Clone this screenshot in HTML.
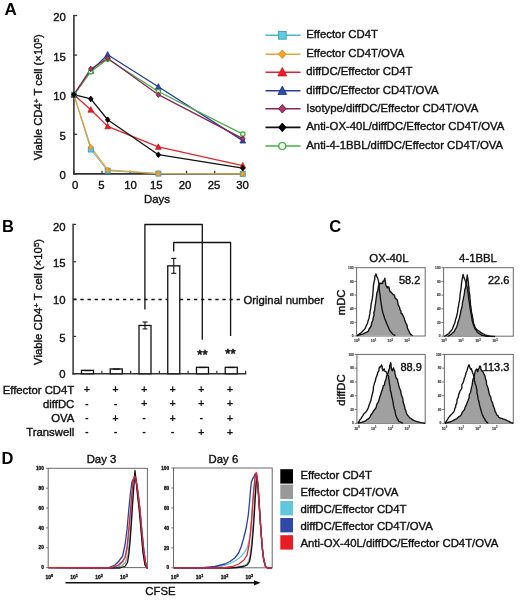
<!DOCTYPE html>
<html><head><meta charset="utf-8"><style>
html,body{margin:0;padding:0;background:#fff;}
svg{display:block;filter:blur(0.35px);font-family:"Liberation Sans", sans-serif;}
</style></head><body>
<svg width="520" height="601" viewBox="0 0 520 601">
<rect width="520" height="601" fill="#fff"/>
<text x="4.40" y="14.90" font-size="17" text-anchor="start" font-weight="bold" fill="#000" >A</text>
<line x1="73.90" y1="14.90" x2="73.90" y2="174.60" stroke="#333" stroke-width="1.6" />
<line x1="73.10" y1="173.90" x2="244.30" y2="173.90" stroke="#333" stroke-width="1.6" />
<line x1="73.90" y1="173.90" x2="77.10" y2="173.90" stroke="#333" stroke-width="1.3" />
<text x="65.80" y="178.70" font-size="11.35" text-anchor="end" font-weight="normal" fill="#111" stroke="#111" stroke-width="0.38" >0</text>
<line x1="73.90" y1="134.30" x2="77.10" y2="134.30" stroke="#333" stroke-width="1.3" />
<text x="65.80" y="139.60" font-size="11.35" text-anchor="end" font-weight="normal" fill="#111" stroke="#111" stroke-width="0.38" >5</text>
<line x1="73.90" y1="94.70" x2="77.10" y2="94.70" stroke="#333" stroke-width="1.3" />
<text x="65.80" y="99.80" font-size="11.35" text-anchor="end" font-weight="normal" fill="#111" stroke="#111" stroke-width="0.38" >10</text>
<line x1="73.90" y1="55.10" x2="77.10" y2="55.10" stroke="#333" stroke-width="1.3" />
<text x="65.80" y="60.70" font-size="11.35" text-anchor="end" font-weight="normal" fill="#111" stroke="#111" stroke-width="0.38" >15</text>
<line x1="73.90" y1="15.50" x2="77.10" y2="15.50" stroke="#333" stroke-width="1.3" />
<text x="65.80" y="21.35" font-size="11.35" text-anchor="end" font-weight="normal" fill="#111" stroke="#111" stroke-width="0.38" >20</text>
<line x1="73.90" y1="173.90" x2="73.90" y2="170.70" stroke="#333" stroke-width="1.3" />
<text x="75.20" y="188.90" font-size="11.35" text-anchor="middle" font-weight="normal" fill="#111" stroke="#111" stroke-width="0.38" >0</text>
<line x1="102.05" y1="173.90" x2="102.05" y2="170.70" stroke="#333" stroke-width="1.3" />
<text x="101.30" y="188.90" font-size="11.35" text-anchor="middle" font-weight="normal" fill="#111" stroke="#111" stroke-width="0.38" >5</text>
<line x1="130.20" y1="173.90" x2="130.20" y2="170.70" stroke="#333" stroke-width="1.3" />
<text x="130.60" y="188.90" font-size="11.35" text-anchor="middle" font-weight="normal" fill="#111" stroke="#111" stroke-width="0.38" >10</text>
<line x1="158.35" y1="173.90" x2="158.35" y2="170.70" stroke="#333" stroke-width="1.3" />
<text x="156.30" y="188.90" font-size="11.35" text-anchor="middle" font-weight="normal" fill="#111" stroke="#111" stroke-width="0.38" >15</text>
<line x1="186.50" y1="173.90" x2="186.50" y2="170.70" stroke="#333" stroke-width="1.3" />
<text x="185.00" y="188.90" font-size="11.35" text-anchor="middle" font-weight="normal" fill="#111" stroke="#111" stroke-width="0.38" >20</text>
<line x1="214.65" y1="173.90" x2="214.65" y2="170.70" stroke="#333" stroke-width="1.3" />
<text x="214.00" y="188.90" font-size="11.35" text-anchor="middle" font-weight="normal" fill="#111" stroke="#111" stroke-width="0.38" >25</text>
<line x1="242.80" y1="173.90" x2="242.80" y2="170.70" stroke="#333" stroke-width="1.3" />
<text x="242.60" y="188.90" font-size="11.35" text-anchor="middle" font-weight="normal" fill="#111" stroke="#111" stroke-width="0.38" >30</text>
<text x="157.00" y="202.70" font-size="11.35" text-anchor="middle" font-weight="normal" fill="#111" stroke="#111" stroke-width="0.38" >Days</text>
<text transform="translate(42.2,97.3) rotate(-90)" font-size="11.35" text-anchor="middle" fill="#111" stroke="#111" stroke-width="0.38">Viable CD4<tspan font-size="8" dy="-3.4">+</tspan><tspan dy="3.4"> T cell (×10</tspan><tspan font-size="8" dy="-3.6">5</tspan><tspan dy="3.6">)</tspan></text>
<polyline points="73.90,94.70 90.79,149.51 107.68,170.73 158.35,173.58 242.80,173.90" fill="none" stroke="#4fb6cf" stroke-width="1.0" stroke-linejoin="round" />
<polyline points="73.90,94.70 90.79,146.97 107.68,169.94 158.35,173.58 242.80,173.90" fill="none" stroke="#e8a23e" stroke-width="1.3" stroke-linejoin="round" />
<polyline points="73.90,94.70 90.79,109.75 107.68,126.38 158.35,146.97 242.80,165.58" fill="none" stroke="#d8282e" stroke-width="1.3" stroke-linejoin="round" />
<polyline points="73.90,94.70 90.79,70.94 107.68,54.70 158.35,86.78 242.80,140.64" fill="none" stroke="#2a3d9a" stroke-width="1.3" stroke-linejoin="round" />
<polyline points="73.90,94.70 90.79,71.73 107.68,59.06 158.35,91.53 242.80,134.06" fill="none" stroke="#46b046" stroke-width="1.3" stroke-linejoin="round" />
<polyline points="73.90,94.70 90.79,68.96 107.68,58.27 158.35,94.70 242.80,138.66" fill="none" stroke="#8a2456" stroke-width="1.3" stroke-linejoin="round" />
<polyline points="73.90,94.70 90.79,98.90 107.68,119.73 158.35,154.73 242.80,168.20" fill="none" stroke="#111111" stroke-width="1.3" stroke-linejoin="round" />
<rect x="71.40" y="92.20" width="4.99" height="4.99" fill="#62cbe3" stroke="#3a9cb8" stroke-width="0.9"/>
<rect x="88.29" y="147.01" width="4.99" height="4.99" fill="#62cbe3" stroke="#3a9cb8" stroke-width="0.9"/>
<rect x="105.18" y="168.24" width="4.99" height="4.99" fill="#62cbe3" stroke="#3a9cb8" stroke-width="0.9"/>
<rect x="155.85" y="171.09" width="4.99" height="4.99" fill="#62cbe3" stroke="#3a9cb8" stroke-width="0.9"/>
<rect x="240.30" y="171.40" width="4.99" height="4.99" fill="#62cbe3" stroke="#3a9cb8" stroke-width="0.9"/>
<path d="M73.90,91.88 L76.12,94.70 L73.90,97.52 L71.68,94.70Z" fill="#f6a423" stroke="#e08e20" stroke-width="0.9"/>
<path d="M90.79,144.15 L93.01,146.97 L90.79,149.80 L88.57,146.97Z" fill="#f6a423" stroke="#e08e20" stroke-width="0.9"/>
<path d="M107.68,167.12 L109.90,169.94 L107.68,172.76 L105.46,169.94Z" fill="#f6a423" stroke="#e08e20" stroke-width="0.9"/>
<path d="M158.35,170.76 L160.57,173.58 L158.35,176.41 L156.13,173.58Z" fill="#f6a423" stroke="#e08e20" stroke-width="0.9"/>
<path d="M242.80,171.08 L245.02,173.90 L242.80,176.72 L240.58,173.90Z" fill="#f6a423" stroke="#e08e20" stroke-width="0.9"/>
<path d="M73.90,91.58 L76.72,97.09 L71.08,97.09Z" fill="#ec1c24" stroke="#c8161e" stroke-width="0.8" stroke-linejoin="miter"/>
<path d="M90.79,106.63 L93.61,112.14 L87.97,112.14Z" fill="#ec1c24" stroke="#c8161e" stroke-width="0.8" stroke-linejoin="miter"/>
<path d="M107.68,123.26 L110.50,128.77 L104.86,128.77Z" fill="#ec1c24" stroke="#c8161e" stroke-width="0.8" stroke-linejoin="miter"/>
<path d="M158.35,143.86 L161.17,149.37 L155.53,149.37Z" fill="#ec1c24" stroke="#c8161e" stroke-width="0.8" stroke-linejoin="miter"/>
<path d="M242.80,162.47 L245.62,167.98 L239.98,167.98Z" fill="#ec1c24" stroke="#c8161e" stroke-width="0.8" stroke-linejoin="miter"/>
<path d="M73.90,91.58 L76.72,97.09 L71.08,97.09Z" fill="#2b4ea8" stroke="#22307e" stroke-width="0.8" stroke-linejoin="miter"/>
<path d="M90.79,67.82 L93.61,73.33 L87.97,73.33Z" fill="#2b4ea8" stroke="#22307e" stroke-width="0.8" stroke-linejoin="miter"/>
<path d="M107.68,51.59 L110.50,57.10 L104.86,57.10Z" fill="#2b4ea8" stroke="#22307e" stroke-width="0.8" stroke-linejoin="miter"/>
<path d="M158.35,83.66 L161.17,89.17 L155.53,89.17Z" fill="#2b4ea8" stroke="#22307e" stroke-width="0.8" stroke-linejoin="miter"/>
<path d="M242.80,137.52 L245.62,143.03 L239.98,143.03Z" fill="#2b4ea8" stroke="#22307e" stroke-width="0.8" stroke-linejoin="miter"/>
<circle cx="73.90" cy="94.70" r="2.24" fill="#f4fbf0" stroke="#3aa83a" stroke-width="1.2"/>
<circle cx="90.79" cy="71.73" r="2.24" fill="#f4fbf0" stroke="#3aa83a" stroke-width="1.2"/>
<circle cx="107.68" cy="59.06" r="2.24" fill="#f4fbf0" stroke="#3aa83a" stroke-width="1.2"/>
<circle cx="158.35" cy="91.53" r="2.24" fill="#f4fbf0" stroke="#3aa83a" stroke-width="1.2"/>
<circle cx="242.80" cy="134.06" r="2.24" fill="#f4fbf0" stroke="#3aa83a" stroke-width="1.2"/>
<path d="M73.90,91.88 L76.12,94.70 L73.90,97.52 L71.68,94.70Z" fill="#b3336e" stroke="#6a1a40" stroke-width="0.9"/>
<path d="M90.79,66.14 L93.01,68.96 L90.79,71.78 L88.57,68.96Z" fill="#b3336e" stroke="#6a1a40" stroke-width="0.9"/>
<path d="M107.68,55.44 L109.90,58.27 L107.68,61.09 L105.46,58.27Z" fill="#b3336e" stroke="#6a1a40" stroke-width="0.9"/>
<path d="M158.35,91.88 L160.57,94.70 L158.35,97.52 L156.13,94.70Z" fill="#b3336e" stroke="#6a1a40" stroke-width="0.9"/>
<path d="M242.80,135.83 L245.02,138.66 L242.80,141.48 L240.58,138.66Z" fill="#b3336e" stroke="#6a1a40" stroke-width="0.9"/>
<path d="M73.90,91.88 L76.12,94.70 L73.90,97.52 L71.68,94.70Z" fill="#000" stroke="#000" stroke-width="0.9"/>
<path d="M90.79,96.07 L93.01,98.90 L90.79,101.72 L88.57,98.90Z" fill="#000" stroke="#000" stroke-width="0.9"/>
<path d="M107.68,116.90 L109.90,119.73 L107.68,122.55 L105.46,119.73Z" fill="#000" stroke="#000" stroke-width="0.9"/>
<path d="M158.35,151.91 L160.57,154.73 L158.35,157.56 L156.13,154.73Z" fill="#000" stroke="#000" stroke-width="0.9"/>
<path d="M242.80,165.37 L245.02,168.20 L242.80,171.02 L240.58,168.20Z" fill="#000" stroke="#000" stroke-width="0.9"/>
<line x1="265.50" y1="35.30" x2="300.50" y2="35.30" stroke="#4fb6cf" stroke-width="1.6" />
<rect x="278.40" y="31.40" width="7.80" height="7.80" fill="#62cbe3" stroke="#3a9cb8" stroke-width="0.9"/>
<text x="306.30" y="38.20" font-size="11.35" text-anchor="start" font-weight="normal" fill="#111" stroke="#111" stroke-width="0.38" >Effector CD4T</text>
<line x1="265.50" y1="54.20" x2="300.50" y2="54.20" stroke="#e8a23e" stroke-width="1.6" />
<path d="M282.30,49.90 L286.00,54.20 L282.30,58.50 L278.60,54.20Z" fill="#f6a423" stroke="#e08e20" stroke-width="0.9"/>
<text x="306.30" y="57.10" font-size="11.35" text-anchor="start" font-weight="normal" fill="#111" stroke="#111" stroke-width="0.38" >Effector CD4T/OVA</text>
<line x1="265.50" y1="72.20" x2="300.50" y2="72.20" stroke="#d8282e" stroke-width="1.6" />
<path d="M282.30,67.50 L286.70,75.94 L277.90,75.94Z" fill="#ec1c24" stroke="#c8161e" stroke-width="0.8" stroke-linejoin="miter"/>
<text x="306.30" y="75.10" font-size="11.35" text-anchor="start" font-weight="normal" fill="#111" stroke="#111" stroke-width="0.38" >diffDC/Effector CD4T</text>
<line x1="265.50" y1="90.80" x2="300.50" y2="90.80" stroke="#2a3d9a" stroke-width="1.6" />
<path d="M282.30,86.10 L286.70,94.54 L277.90,94.54Z" fill="#2b4ea8" stroke="#22307e" stroke-width="0.8" stroke-linejoin="miter"/>
<text x="306.30" y="93.70" font-size="11.35" text-anchor="start" font-weight="normal" fill="#111" stroke="#111" stroke-width="0.38" >diffDC/Effector CD4T/OVA</text>
<line x1="265.50" y1="108.80" x2="300.50" y2="108.80" stroke="#8a2456" stroke-width="1.6" />
<path d="M282.30,104.50 L286.00,108.80 L282.30,113.10 L278.60,108.80Z" fill="#b3336e" stroke="#6a1a40" stroke-width="0.9"/>
<text x="306.30" y="111.70" font-size="11.35" text-anchor="start" font-weight="normal" fill="#111" stroke="#111" stroke-width="0.38" >Isotype/diffDC/Effector CD4T/OVA</text>
<line x1="265.50" y1="127.40" x2="300.50" y2="127.40" stroke="#111111" stroke-width="1.6" />
<path d="M282.30,123.10 L286.00,127.40 L282.30,131.70 L278.60,127.40Z" fill="#000" stroke="#000" stroke-width="0.9"/>
<text x="306.30" y="130.30" font-size="11.35" text-anchor="start" font-weight="normal" fill="#111" stroke="#111" stroke-width="0.38" >Anti-OX-40L/diffDC/Effector CD4T/OVA</text>
<line x1="265.50" y1="146.00" x2="300.50" y2="146.00" stroke="#46b046" stroke-width="1.6" />
<circle cx="282.30" cy="146.00" r="3.50" fill="#f4fbf0" stroke="#3aa83a" stroke-width="1.2"/>
<text x="306.30" y="148.90" font-size="11.35" text-anchor="start" font-weight="normal" fill="#111" stroke="#111" stroke-width="0.38" >Anti-4-1BBL/diffDC/Effector CD4T/OVA</text>
<text x="2.00" y="232.20" font-size="16.5" text-anchor="start" font-weight="bold" fill="#000" >B</text>
<line x1="73.10" y1="223.80" x2="73.10" y2="374.50" stroke="#333" stroke-width="1.5" />
<line x1="72.40" y1="373.80" x2="246.30" y2="373.80" stroke="#333" stroke-width="1.5" />
<line x1="73.10" y1="373.80" x2="76.10" y2="373.80" stroke="#333" stroke-width="1.2" />
<text x="65.60" y="377.95" font-size="11.35" text-anchor="end" font-weight="normal" fill="#111" stroke="#111" stroke-width="0.38" >0</text>
<line x1="73.10" y1="336.45" x2="76.10" y2="336.45" stroke="#333" stroke-width="1.2" />
<text x="65.60" y="341.75" font-size="11.35" text-anchor="end" font-weight="normal" fill="#111" stroke="#111" stroke-width="0.38" >5</text>
<line x1="73.10" y1="299.10" x2="76.10" y2="299.10" stroke="#333" stroke-width="1.2" />
<text x="65.60" y="303.95" font-size="11.35" text-anchor="end" font-weight="normal" fill="#111" stroke="#111" stroke-width="0.38" >10</text>
<line x1="73.10" y1="261.75" x2="76.10" y2="261.75" stroke="#333" stroke-width="1.2" />
<text x="65.60" y="267.45" font-size="11.35" text-anchor="end" font-weight="normal" fill="#111" stroke="#111" stroke-width="0.38" >15</text>
<line x1="73.10" y1="224.40" x2="76.10" y2="224.40" stroke="#333" stroke-width="1.2" />
<text x="65.60" y="230.55" font-size="11.35" text-anchor="end" font-weight="normal" fill="#111" stroke="#111" stroke-width="0.38" >20</text>
<line x1="101.85" y1="373.80" x2="101.85" y2="370.80" stroke="#333" stroke-width="1.2" />
<line x1="130.60" y1="373.80" x2="130.60" y2="370.80" stroke="#333" stroke-width="1.2" />
<line x1="159.35" y1="373.80" x2="159.35" y2="370.80" stroke="#333" stroke-width="1.2" />
<line x1="188.10" y1="373.80" x2="188.10" y2="370.80" stroke="#333" stroke-width="1.2" />
<line x1="216.85" y1="373.80" x2="216.85" y2="370.80" stroke="#333" stroke-width="1.2" />
<line x1="245.60" y1="373.80" x2="245.60" y2="370.80" stroke="#333" stroke-width="1.2" />
<text transform="translate(42.2,301.9) rotate(-90)" font-size="11.35" text-anchor="middle" fill="#111" stroke="#111" stroke-width="0.38">Viable CD4<tspan font-size="8" dy="-3.4">+</tspan><tspan dy="3.4"> T cell (×10</tspan><tspan font-size="8" dy="-3.6">5</tspan><tspan dy="3.6">)</tspan></text>
<line x1="73.30" y1="299.50" x2="241.50" y2="299.50" stroke="#111" stroke-width="1.4" stroke-dasharray="3.3 3.8"/>
<text x="243.40" y="303.70" font-size="11.35" text-anchor="start" font-weight="normal" fill="#111" stroke="#111" stroke-width="0.38" >Original number</text>
<rect x="81.50" y="370.36" width="12" height="3.44" fill="#fff" stroke="#111" stroke-width="1.3"/>
<line x1="84.00" y1="370.56" x2="91.00" y2="370.56" stroke="#111" stroke-width="1.3" />
<rect x="110.25" y="368.94" width="12" height="4.86" fill="#fff" stroke="#111" stroke-width="1.3"/>
<line x1="112.75" y1="369.14" x2="119.75" y2="369.14" stroke="#111" stroke-width="1.3" />
<rect x="139.00" y="325.47" width="12" height="48.33" fill="#fff" stroke="#111" stroke-width="1.3"/>
<line x1="145.00" y1="322.03" x2="145.00" y2="328.91" stroke="#111" stroke-width="1.1" />
<line x1="142.50" y1="322.03" x2="147.50" y2="322.03" stroke="#111" stroke-width="1.1" />
<line x1="142.50" y1="328.91" x2="147.50" y2="328.91" stroke="#111" stroke-width="1.1" />
<rect x="167.75" y="265.86" width="12" height="107.94" fill="#fff" stroke="#111" stroke-width="1.3"/>
<line x1="173.75" y1="258.39" x2="173.75" y2="273.33" stroke="#111" stroke-width="1.1" />
<line x1="171.25" y1="258.39" x2="176.25" y2="258.39" stroke="#111" stroke-width="1.1" />
<line x1="171.25" y1="273.33" x2="176.25" y2="273.33" stroke="#111" stroke-width="1.1" />
<rect x="196.50" y="367.30" width="12" height="6.50" fill="#fff" stroke="#111" stroke-width="1.3"/>
<line x1="199.00" y1="367.50" x2="206.00" y2="367.50" stroke="#111" stroke-width="1.3" />
<rect x="225.25" y="367.30" width="12" height="6.50" fill="#fff" stroke="#111" stroke-width="1.3"/>
<line x1="227.75" y1="367.50" x2="234.75" y2="367.50" stroke="#111" stroke-width="1.3" />
<polyline points="144.90,309.50 144.90,224.50 202.30,224.50 202.30,339.70" fill="none" stroke="#111" stroke-width="1.3" stroke-linejoin="round" stroke-linejoin="miter"/>
<polyline points="173.70,251.40 173.70,242.50 230.60,242.50 230.60,336.10" fill="none" stroke="#111" stroke-width="1.3" stroke-linejoin="round" stroke-linejoin="miter"/>
<text x="202.50" y="359.40" font-size="13.2" text-anchor="middle" font-weight="normal" fill="#111" stroke="#111" stroke-width="0.55" >**</text>
<text x="230.50" y="358.20" font-size="13.2" text-anchor="middle" font-weight="normal" fill="#111" stroke="#111" stroke-width="0.55" >**</text>
<text x="74.30" y="393.75" font-size="11.35" text-anchor="end" font-weight="normal" fill="#111" stroke="#111" stroke-width="0.38" >Effector CD4T</text>
<text x="86.90" y="393.45" font-size="11" text-anchor="middle" font-weight="bold" fill="#111" >+</text>
<text x="115.50" y="393.45" font-size="11" text-anchor="middle" font-weight="bold" fill="#111" >+</text>
<text x="144.10" y="393.45" font-size="11" text-anchor="middle" font-weight="bold" fill="#111" >+</text>
<text x="172.70" y="393.45" font-size="11" text-anchor="middle" font-weight="bold" fill="#111" >+</text>
<text x="201.30" y="393.45" font-size="11" text-anchor="middle" font-weight="bold" fill="#111" >+</text>
<text x="229.90" y="393.45" font-size="11" text-anchor="middle" font-weight="bold" fill="#111" >+</text>
<text x="74.30" y="407.60" font-size="11.35" text-anchor="end" font-weight="normal" fill="#111" stroke="#111" stroke-width="0.38" >diffDC</text>
<text x="86.90" y="407.10" font-size="11" text-anchor="middle" font-weight="bold" fill="#111" >-</text>
<text x="115.50" y="407.10" font-size="11" text-anchor="middle" font-weight="bold" fill="#111" >-</text>
<text x="144.10" y="407.30" font-size="11" text-anchor="middle" font-weight="bold" fill="#111" >+</text>
<text x="172.70" y="407.30" font-size="11" text-anchor="middle" font-weight="bold" fill="#111" >+</text>
<text x="201.30" y="407.30" font-size="11" text-anchor="middle" font-weight="bold" fill="#111" >+</text>
<text x="229.90" y="407.30" font-size="11" text-anchor="middle" font-weight="bold" fill="#111" >+</text>
<text x="74.30" y="421.90" font-size="11.35" text-anchor="end" font-weight="normal" fill="#111" stroke="#111" stroke-width="0.38" >OVA</text>
<text x="86.90" y="421.40" font-size="11" text-anchor="middle" font-weight="bold" fill="#111" >-</text>
<text x="115.50" y="421.60" font-size="11" text-anchor="middle" font-weight="bold" fill="#111" >+</text>
<text x="144.10" y="421.40" font-size="11" text-anchor="middle" font-weight="bold" fill="#111" >-</text>
<text x="172.70" y="421.60" font-size="11" text-anchor="middle" font-weight="bold" fill="#111" >+</text>
<text x="201.30" y="421.40" font-size="11" text-anchor="middle" font-weight="bold" fill="#111" >-</text>
<text x="229.90" y="421.60" font-size="11" text-anchor="middle" font-weight="bold" fill="#111" >+</text>
<text x="74.30" y="435.80" font-size="11.35" text-anchor="end" font-weight="normal" fill="#111" stroke="#111" stroke-width="0.38" >Transwell</text>
<text x="86.90" y="435.30" font-size="11" text-anchor="middle" font-weight="bold" fill="#111" >-</text>
<text x="115.50" y="435.30" font-size="11" text-anchor="middle" font-weight="bold" fill="#111" >-</text>
<text x="144.10" y="435.30" font-size="11" text-anchor="middle" font-weight="bold" fill="#111" >-</text>
<text x="172.70" y="435.30" font-size="11" text-anchor="middle" font-weight="bold" fill="#111" >-</text>
<text x="201.30" y="435.50" font-size="11" text-anchor="middle" font-weight="bold" fill="#111" >+</text>
<text x="229.90" y="435.50" font-size="11" text-anchor="middle" font-weight="bold" fill="#111" >+</text>
<text x="329.30" y="232.20" font-size="16.5" text-anchor="start" font-weight="bold" fill="#000" >C</text>
<text x="388.90" y="262.20" font-size="11.35" text-anchor="middle" font-weight="normal" fill="#111" stroke="#111" stroke-width="0.38" >OX-40L</text>
<text x="478.00" y="262.20" font-size="11.35" text-anchor="middle" font-weight="normal" fill="#111" stroke="#111" stroke-width="0.38" >4-1BBL</text>
<text transform="translate(345.4,302.4) rotate(-90)" font-size="11.35" text-anchor="middle" fill="#111" stroke="#111" stroke-width="0.38">mDC</text>
<text transform="translate(345.2,390.0) rotate(-90)" font-size="11.35" text-anchor="middle" fill="#111" stroke="#111" stroke-width="0.38">diffDC</text>
<rect x="356.60" y="267.70" width="68.60" height="68.30" fill="none" stroke="#6a6a6a" stroke-width="1.0"/>
<line x1="354.40" y1="336.00" x2="356.60" y2="336.00" stroke="#555" stroke-width="0.8" />
<text x="353.60" y="337.19" font-size="3.3" text-anchor="end" font-weight="bold" fill="#444" stroke="#444" stroke-width="0.15" >0</text>
<line x1="354.40" y1="322.34" x2="356.60" y2="322.34" stroke="#555" stroke-width="0.8" />
<text x="353.60" y="323.53" font-size="3.3" text-anchor="end" font-weight="bold" fill="#444" stroke="#444" stroke-width="0.15" >20</text>
<line x1="354.40" y1="308.68" x2="356.60" y2="308.68" stroke="#555" stroke-width="0.8" />
<text x="353.60" y="309.87" font-size="3.3" text-anchor="end" font-weight="bold" fill="#444" stroke="#444" stroke-width="0.15" >40</text>
<line x1="354.40" y1="295.02" x2="356.60" y2="295.02" stroke="#555" stroke-width="0.8" />
<text x="353.60" y="296.21" font-size="3.3" text-anchor="end" font-weight="bold" fill="#444" stroke="#444" stroke-width="0.15" >60</text>
<line x1="354.40" y1="281.36" x2="356.60" y2="281.36" stroke="#555" stroke-width="0.8" />
<text x="353.60" y="282.55" font-size="3.3" text-anchor="end" font-weight="bold" fill="#444" stroke="#444" stroke-width="0.15" >80</text>
<line x1="354.40" y1="267.70" x2="356.60" y2="267.70" stroke="#555" stroke-width="0.8" />
<text x="353.60" y="268.89" font-size="3.3" text-anchor="end" font-weight="bold" fill="#444" stroke="#444" stroke-width="0.15" >100</text>
<text x="356.68" y="342.40" font-size="3.6" text-anchor="middle" font-weight="bold" fill="#444" stroke="#444" stroke-width="0.15">10<tspan font-size="2.70" dy="-1.44">0</tspan></text>
<text x="373.48" y="342.40" font-size="3.6" text-anchor="middle" font-weight="bold" fill="#444" stroke="#444" stroke-width="0.15">10<tspan font-size="2.70" dy="-1.44">1</tspan></text>
<text x="390.28" y="342.40" font-size="3.6" text-anchor="middle" font-weight="bold" fill="#444" stroke="#444" stroke-width="0.15">10<tspan font-size="2.70" dy="-1.44">2</tspan></text>
<text x="407.08" y="342.40" font-size="3.6" text-anchor="middle" font-weight="bold" fill="#444" stroke="#444" stroke-width="0.15">10<tspan font-size="2.70" dy="-1.44">3</tspan></text>
<path d="M356.92,335.58 L359.11,335.05 L360.58,334.57 L362.69,334.04 L364.58,333.08 L366.76,332.16 L368.46,331.15 L369.06,329.03 L370.33,327.52 L371.35,325.38 L371.60,323.08 L372.80,320.19 L373.27,317.69 L374.06,314.70 L373.81,313.27 L374.62,310.00 L375.16,305.24 L375.55,303.15 L376.15,298.46 L376.61,295.35 L376.97,292.43 L377.69,290.77 L378.14,288.73 L378.38,286.41 L379.04,285.00 L379.46,283.82 L379.57,283.31 L380.38,283.08 L380.94,283.73 L381.17,283.35 L381.92,283.08 L382.71,283.38 L382.82,281.07 L383.46,281.15 L384.07,280.62 L384.30,280.07 L384.81,278.27 L385.26,281.15 L385.52,282.38 L385.77,285.00 L386.55,286.70 L386.86,286.93 L387.31,287.88 L387.56,286.67 L388.14,287.82 L388.65,286.92 L389.14,287.90 L389.69,290.52 L390.00,291.73 L390.47,291.81 L391.24,292.39 L391.54,292.69 L392.10,293.37 L392.46,293.95 L393.46,294.62 L394.39,295.02 L395.07,298.11 L395.77,298.46 L396.03,298.90 L397.17,299.75 L397.31,300.38 L397.85,302.83 L398.13,304.92 L398.85,306.15 L399.64,307.46 L399.71,308.87 L400.19,310.00 L400.87,310.85 L401.09,313.37 L402.12,313.85 L403.00,315.57 L403.58,316.98 L404.04,317.69 L404.69,319.99 L405.26,321.60 L405.96,323.46 L407.08,325.37 L407.40,327.99 L408.46,330.19 L409.22,331.67 L409.88,333.11 L410.77,334.62 L411.51,334.94 L412.02,335.26 L412.69,335.58 Z" fill="#a0a0a0" stroke="none"/>
<path d="M356.92,335.58 L359.11,335.05 L360.58,334.57 L362.69,334.04 L364.58,333.08 L366.76,332.16 L368.46,331.15 L369.06,329.03 L370.33,327.52 L371.35,325.38 L371.60,323.08 L372.80,320.19 L373.27,317.69 L374.06,314.70 L373.81,313.27 L374.62,310.00 L375.16,305.24 L375.55,303.15 L376.15,298.46 L376.61,295.35 L376.97,292.43 L377.69,290.77 L378.14,288.73 L378.38,286.41 L379.04,285.00 L379.46,283.82 L379.57,283.31 L380.38,283.08 L380.94,283.73 L381.17,283.35 L381.92,283.08 L382.71,283.38 L382.82,281.07 L383.46,281.15 L384.07,280.62 L384.30,280.07 L384.81,278.27 L385.26,281.15 L385.52,282.38 L385.77,285.00 L386.55,286.70 L386.86,286.93 L387.31,287.88 L387.56,286.67 L388.14,287.82 L388.65,286.92 L389.14,287.90 L389.69,290.52 L390.00,291.73 L390.47,291.81 L391.24,292.39 L391.54,292.69 L392.10,293.37 L392.46,293.95 L393.46,294.62 L394.39,295.02 L395.07,298.11 L395.77,298.46 L396.03,298.90 L397.17,299.75 L397.31,300.38 L397.85,302.83 L398.13,304.92 L398.85,306.15 L399.64,307.46 L399.71,308.87 L400.19,310.00 L400.87,310.85 L401.09,313.37 L402.12,313.85 L403.00,315.57 L403.58,316.98 L404.04,317.69 L404.69,319.99 L405.26,321.60 L405.96,323.46 L407.08,325.37 L407.40,327.99 L408.46,330.19 L409.22,331.67 L409.88,333.11 L410.77,334.62 L411.51,334.94 L412.02,335.26 L412.69,335.58" fill="none" stroke="#111" stroke-width="1.35" stroke-linejoin="round"/>
<path d="M356.92,335.58 L358.41,334.76 L359.30,333.88 L360.77,333.08 L362.16,331.85 L363.24,330.55 L364.62,329.23 L365.63,327.35 L366.38,325.42 L367.50,323.46 L368.09,320.85 L369.01,318.51 L369.42,315.77 L369.89,313.67 L370.21,310.58 L370.77,308.08 L371.06,304.34 L371.71,301.63 L372.31,298.46 L372.81,295.12 L372.98,292.08 L373.27,288.85 L373.37,285.98 L373.74,283.52 L374.23,281.15 L374.78,279.24 L374.72,277.51 L375.19,275.38 L375.52,275.33 L375.76,274.63 L375.77,273.85 L376.16,274.66 L376.50,274.70 L376.54,275.38 L376.77,276.88 L377.41,277.60 L377.69,278.27 L377.96,279.19 L378.40,280.18 L378.46,281.15 L378.87,283.72 L379.15,286.11 L379.23,288.85 L379.60,292.51 L380.19,295.33 L380.38,298.46 L380.89,301.92 L381.33,304.55 L381.92,308.08 L382.41,310.87 L383.10,313.62 L383.85,315.77 L384.72,318.66 L385.86,321.20 L386.73,323.46 L387.70,325.71 L388.69,328.00 L389.62,330.19 L390.44,331.44 L391.74,332.76 L392.50,334.04 L393.27,334.56 L394.53,335.07 L395.38,335.58" fill="none" stroke="#111" stroke-width="1.35" stroke-linejoin="round"/>
<text x="420.30" y="283.90" font-size="11" text-anchor="end" font-weight="normal" fill="#111" stroke="#111" stroke-width="0.38" >58.2</text>
<rect x="443.60" y="267.70" width="69.70" height="68.50" fill="none" stroke="#6a6a6a" stroke-width="1.0"/>
<line x1="441.40" y1="336.20" x2="443.60" y2="336.20" stroke="#555" stroke-width="0.8" />
<text x="440.60" y="337.39" font-size="3.3" text-anchor="end" font-weight="bold" fill="#444" stroke="#444" stroke-width="0.15" >0</text>
<line x1="441.40" y1="322.50" x2="443.60" y2="322.50" stroke="#555" stroke-width="0.8" />
<text x="440.60" y="323.69" font-size="3.3" text-anchor="end" font-weight="bold" fill="#444" stroke="#444" stroke-width="0.15" >20</text>
<line x1="441.40" y1="308.80" x2="443.60" y2="308.80" stroke="#555" stroke-width="0.8" />
<text x="440.60" y="309.99" font-size="3.3" text-anchor="end" font-weight="bold" fill="#444" stroke="#444" stroke-width="0.15" >40</text>
<line x1="441.40" y1="295.10" x2="443.60" y2="295.10" stroke="#555" stroke-width="0.8" />
<text x="440.60" y="296.29" font-size="3.3" text-anchor="end" font-weight="bold" fill="#444" stroke="#444" stroke-width="0.15" >60</text>
<line x1="441.40" y1="281.40" x2="443.60" y2="281.40" stroke="#555" stroke-width="0.8" />
<text x="440.60" y="282.59" font-size="3.3" text-anchor="end" font-weight="bold" fill="#444" stroke="#444" stroke-width="0.15" >80</text>
<line x1="441.40" y1="267.70" x2="443.60" y2="267.70" stroke="#555" stroke-width="0.8" />
<text x="440.60" y="268.89" font-size="3.3" text-anchor="end" font-weight="bold" fill="#444" stroke="#444" stroke-width="0.15" >100</text>
<text x="443.88" y="342.40" font-size="3.6" text-anchor="middle" font-weight="bold" fill="#444" stroke="#444" stroke-width="0.15">10<tspan font-size="2.70" dy="-1.44">0</tspan></text>
<text x="460.88" y="342.40" font-size="3.6" text-anchor="middle" font-weight="bold" fill="#444" stroke="#444" stroke-width="0.15">10<tspan font-size="2.70" dy="-1.44">1</tspan></text>
<text x="477.88" y="342.40" font-size="3.6" text-anchor="middle" font-weight="bold" fill="#444" stroke="#444" stroke-width="0.15">10<tspan font-size="2.70" dy="-1.44">2</tspan></text>
<text x="494.88" y="342.40" font-size="3.6" text-anchor="middle" font-weight="bold" fill="#444" stroke="#444" stroke-width="0.15">10<tspan font-size="2.70" dy="-1.44">3</tspan></text>
<path d="M447.50,336.50 L448.77,335.78 L450.04,335.08 L451.25,334.38 L452.12,333.35 L453.47,332.21 L454.38,331.25 L455.10,329.51 L456.03,328.10 L456.88,326.25 L457.49,324.34 L457.99,322.17 L458.75,320.00 L459.52,317.61 L460.10,315.02 L460.62,312.50 L460.99,310.17 L461.74,307.76 L462.25,305.00 L462.48,302.30 L463.07,300.37 L463.50,297.50 L464.07,295.22 L464.50,292.71 L464.75,290.00 L465.29,288.23 L465.76,286.61 L466.00,285.00 L466.13,283.30 L466.47,280.47 L466.88,278.75 L466.97,277.97 L467.05,276.38 L467.25,275.00 L467.37,276.26 L467.62,277.35 L467.75,278.75 L468.16,280.92 L468.42,283.10 L468.50,285.00 L468.99,287.86 L468.95,290.17 L469.38,292.50 L469.85,295.78 L469.99,298.74 L470.25,301.25 L470.47,304.38 L470.95,307.41 L471.25,310.00 L471.49,312.28 L472.28,315.32 L472.50,317.50 L473.04,319.29 L473.19,321.61 L473.75,323.75 L474.48,325.11 L474.82,326.82 L475.62,328.12 L476.07,328.79 L476.81,329.44 L477.50,330.00 L478.53,330.72 L479.37,331.25 L480.00,331.88 L480.87,332.47 L481.90,333.14 L483.12,333.75 L484.13,334.22 L485.07,334.76 L486.25,335.25 L487.65,335.57 L488.93,335.91 L490.00,336.25 L491.62,336.34 L493.34,336.42 L495.00,336.50 Z" fill="#a0a0a0" stroke="none"/>
<path d="M447.50,336.50 L448.77,335.78 L450.04,335.08 L451.25,334.38 L452.12,333.35 L453.47,332.21 L454.38,331.25 L455.10,329.51 L456.03,328.10 L456.88,326.25 L457.49,324.34 L457.99,322.17 L458.75,320.00 L459.52,317.61 L460.10,315.02 L460.62,312.50 L460.99,310.17 L461.74,307.76 L462.25,305.00 L462.48,302.30 L463.07,300.37 L463.50,297.50 L464.07,295.22 L464.50,292.71 L464.75,290.00 L465.29,288.23 L465.76,286.61 L466.00,285.00 L466.13,283.30 L466.47,280.47 L466.88,278.75 L466.97,277.97 L467.05,276.38 L467.25,275.00 L467.37,276.26 L467.62,277.35 L467.75,278.75 L468.16,280.92 L468.42,283.10 L468.50,285.00 L468.99,287.86 L468.95,290.17 L469.38,292.50 L469.85,295.78 L469.99,298.74 L470.25,301.25 L470.47,304.38 L470.95,307.41 L471.25,310.00 L471.49,312.28 L472.28,315.32 L472.50,317.50 L473.04,319.29 L473.19,321.61 L473.75,323.75 L474.48,325.11 L474.82,326.82 L475.62,328.12 L476.07,328.79 L476.81,329.44 L477.50,330.00 L478.53,330.72 L479.37,331.25 L480.00,331.88 L480.87,332.47 L481.90,333.14 L483.12,333.75 L484.13,334.22 L485.07,334.76 L486.25,335.25 L487.65,335.57 L488.93,335.91 L490.00,336.25 L491.62,336.34 L493.34,336.42 L495.00,336.50" fill="none" stroke="#111" stroke-width="1.35" stroke-linejoin="round"/>
<path d="M444.38,336.50 L445.67,335.57 L447.15,334.66 L448.75,333.75 L449.96,332.00 L451.37,330.52 L452.50,328.75 L453.22,326.78 L454.08,324.60 L455.00,322.50 L455.47,319.77 L456.42,317.27 L456.88,315.00 L457.54,312.41 L457.84,309.47 L458.50,306.25 L459.05,302.73 L459.64,299.82 L460.00,296.25 L460.25,293.30 L460.90,289.69 L461.25,286.25 L461.54,283.34 L461.92,280.39 L462.50,277.50 L462.85,276.89 L462.84,275.46 L463.12,274.38 L463.57,276.24 L464.10,277.67 L464.38,278.75 L464.76,279.59 L465.18,280.52 L465.62,281.25 L465.96,282.58 L466.28,284.90 L466.88,286.25 L467.34,288.30 L467.72,291.03 L468.12,293.75 L468.48,296.64 L468.84,300.08 L469.38,302.50 L469.67,305.33 L470.12,308.47 L470.62,311.25 L471.14,313.61 L471.48,316.10 L471.88,318.75 L472.26,321.10 L472.85,322.67 L473.50,325.00 L474.05,326.36 L474.43,327.40 L475.00,328.75 L475.82,329.91 L476.75,331.15 L477.50,332.50 L478.93,333.39 L480.18,334.19 L481.25,335.00 L482.83,335.39 L484.69,335.85 L486.25,336.25 L488.51,336.33 L490.54,336.42 L492.50,336.50" fill="none" stroke="#111" stroke-width="1.35" stroke-linejoin="round"/>
<text x="509.40" y="283.90" font-size="11" text-anchor="end" font-weight="normal" fill="#111" stroke="#111" stroke-width="0.38" >22.6</text>
<rect x="356.90" y="354.40" width="68.30" height="68.90" fill="none" stroke="#6a6a6a" stroke-width="1.0"/>
<line x1="354.70" y1="423.30" x2="356.90" y2="423.30" stroke="#555" stroke-width="0.8" />
<text x="353.90" y="424.49" font-size="3.3" text-anchor="end" font-weight="bold" fill="#444" stroke="#444" stroke-width="0.15" >0</text>
<line x1="354.70" y1="409.52" x2="356.90" y2="409.52" stroke="#555" stroke-width="0.8" />
<text x="353.90" y="410.71" font-size="3.3" text-anchor="end" font-weight="bold" fill="#444" stroke="#444" stroke-width="0.15" >20</text>
<line x1="354.70" y1="395.74" x2="356.90" y2="395.74" stroke="#555" stroke-width="0.8" />
<text x="353.90" y="396.93" font-size="3.3" text-anchor="end" font-weight="bold" fill="#444" stroke="#444" stroke-width="0.15" >40</text>
<line x1="354.70" y1="381.96" x2="356.90" y2="381.96" stroke="#555" stroke-width="0.8" />
<text x="353.90" y="383.15" font-size="3.3" text-anchor="end" font-weight="bold" fill="#444" stroke="#444" stroke-width="0.15" >60</text>
<line x1="354.70" y1="368.18" x2="356.90" y2="368.18" stroke="#555" stroke-width="0.8" />
<text x="353.90" y="369.37" font-size="3.3" text-anchor="end" font-weight="bold" fill="#444" stroke="#444" stroke-width="0.15" >80</text>
<line x1="354.70" y1="354.40" x2="356.90" y2="354.40" stroke="#555" stroke-width="0.8" />
<text x="353.90" y="355.59" font-size="3.3" text-anchor="end" font-weight="bold" fill="#444" stroke="#444" stroke-width="0.15" >100</text>
<text x="356.88" y="429.70" font-size="3.6" text-anchor="middle" font-weight="bold" fill="#444" stroke="#444" stroke-width="0.15">10<tspan font-size="2.70" dy="-1.44">0</tspan></text>
<text x="373.68" y="429.70" font-size="3.6" text-anchor="middle" font-weight="bold" fill="#444" stroke="#444" stroke-width="0.15">10<tspan font-size="2.70" dy="-1.44">1</tspan></text>
<text x="390.48" y="429.70" font-size="3.6" text-anchor="middle" font-weight="bold" fill="#444" stroke="#444" stroke-width="0.15">10<tspan font-size="2.70" dy="-1.44">2</tspan></text>
<text x="407.28" y="429.70" font-size="3.6" text-anchor="middle" font-weight="bold" fill="#444" stroke="#444" stroke-width="0.15">10<tspan font-size="2.70" dy="-1.44">3</tspan></text>
<path d="M357.88,423.08 L359.99,422.63 L362.07,422.20 L363.65,421.73 L365.58,420.81 L366.83,419.69 L368.46,418.85 L369.86,417.12 L370.73,415.23 L372.31,413.08 L373.39,411.13 L374.93,409.27 L376.15,407.31 L376.90,404.12 L378.40,401.86 L379.04,399.62 L379.42,398.16 L380.04,396.34 L380.96,393.85 L381.32,392.15 L382.53,389.04 L382.88,388.08 L383.31,385.60 L384.45,385.16 L384.81,382.31 L385.80,379.66 L386.23,377.90 L386.73,375.58 L387.58,373.73 L388.12,373.38 L388.27,371.73 L388.56,371.40 L388.91,369.28 L389.62,368.46 L389.60,365.86 L390.34,364.23 L390.58,362.69 L391.03,363.79 L391.07,366.48 L391.54,368.85 L391.84,370.10 L392.17,369.77 L392.50,370.77 L392.48,370.20 L392.77,369.76 L393.46,367.88 L394.24,370.29 L394.71,370.80 L395.00,373.65 L395.51,375.00 L395.55,375.91 L396.35,378.46 L397.15,378.81 L397.44,379.80 L397.69,381.35 L398.55,384.10 L398.61,384.89 L399.23,387.12 L400.08,389.41 L400.70,390.85 L401.15,393.85 L402.07,396.96 L402.78,398.19 L403.08,401.54 L403.60,403.56 L404.68,406.79 L405.00,409.23 L405.97,410.70 L406.14,412.47 L406.92,414.04 L407.64,415.22 L408.58,416.41 L409.81,417.88 L411.47,418.78 L412.02,419.46 L413.65,420.38 L414.96,420.92 L416.02,421.27 L417.50,421.73 L419.03,422.06 L420.00,422.37 L421.35,422.69 L422.95,422.87 L423.91,423.07 L425.19,423.27 Z" fill="#a0a0a0" stroke="none"/>
<path d="M357.88,423.08 L359.99,422.63 L362.07,422.20 L363.65,421.73 L365.58,420.81 L366.83,419.69 L368.46,418.85 L369.86,417.12 L370.73,415.23 L372.31,413.08 L373.39,411.13 L374.93,409.27 L376.15,407.31 L376.90,404.12 L378.40,401.86 L379.04,399.62 L379.42,398.16 L380.04,396.34 L380.96,393.85 L381.32,392.15 L382.53,389.04 L382.88,388.08 L383.31,385.60 L384.45,385.16 L384.81,382.31 L385.80,379.66 L386.23,377.90 L386.73,375.58 L387.58,373.73 L388.12,373.38 L388.27,371.73 L388.56,371.40 L388.91,369.28 L389.62,368.46 L389.60,365.86 L390.34,364.23 L390.58,362.69 L391.03,363.79 L391.07,366.48 L391.54,368.85 L391.84,370.10 L392.17,369.77 L392.50,370.77 L392.48,370.20 L392.77,369.76 L393.46,367.88 L394.24,370.29 L394.71,370.80 L395.00,373.65 L395.51,375.00 L395.55,375.91 L396.35,378.46 L397.15,378.81 L397.44,379.80 L397.69,381.35 L398.55,384.10 L398.61,384.89 L399.23,387.12 L400.08,389.41 L400.70,390.85 L401.15,393.85 L402.07,396.96 L402.78,398.19 L403.08,401.54 L403.60,403.56 L404.68,406.79 L405.00,409.23 L405.97,410.70 L406.14,412.47 L406.92,414.04 L407.64,415.22 L408.58,416.41 L409.81,417.88 L411.47,418.78 L412.02,419.46 L413.65,420.38 L414.96,420.92 L416.02,421.27 L417.50,421.73 L419.03,422.06 L420.00,422.37 L421.35,422.69 L422.95,422.87 L423.91,423.07 L425.19,423.27" fill="none" stroke="#111" stroke-width="1.35" stroke-linejoin="round"/>
<path d="M357.88,422.69 L359.09,421.44 L359.62,420.13 L360.77,418.85 L361.86,417.04 L362.89,415.63 L363.65,414.04 L364.82,412.99 L365.81,411.94 L366.54,411.15 L367.11,410.08 L367.96,408.63 L368.46,407.31 L369.14,405.01 L369.56,403.88 L370.38,401.54 L371.04,400.11 L371.28,398.30 L371.92,395.77 L372.60,393.06 L372.78,392.51 L373.27,390.00 L373.48,386.65 L374.01,385.13 L374.62,382.31 L375.20,381.57 L375.76,378.53 L376.15,377.50 L377.00,375.63 L377.19,375.08 L377.69,372.69 L378.29,371.69 L378.96,370.72 L379.04,368.85 L379.38,367.30 L379.79,367.76 L380.38,366.92 L380.45,366.45 L381.17,366.37 L381.54,365.00 L382.11,366.19 L382.20,368.49 L382.88,370.77 L383.05,370.10 L384.06,368.93 L384.23,368.85 L384.37,370.19 L384.88,371.30 L385.77,371.73 L386.59,372.05 L386.65,373.24 L387.31,373.65 L387.67,375.02 L388.59,376.14 L388.65,378.46 L389.04,380.17 L389.47,384.06 L390.00,386.15 L390.32,390.28 L391.33,393.49 L391.54,395.77 L392.48,399.26 L393.08,402.10 L393.46,405.38 L394.12,408.26 L394.90,410.49 L395.38,413.08 L395.71,414.95 L396.49,417.03 L397.31,418.85 L398.17,419.80 L398.22,420.72 L399.23,421.73 L400.58,422.16 L401.61,422.62 L403.08,423.08" fill="none" stroke="#111" stroke-width="1.35" stroke-linejoin="round"/>
<text x="421.90" y="371.20" font-size="11" text-anchor="end" font-weight="normal" fill="#111" stroke="#111" stroke-width="0.38" >88.9</text>
<rect x="444.40" y="354.40" width="68.90" height="68.90" fill="none" stroke="#6a6a6a" stroke-width="1.0"/>
<line x1="442.20" y1="423.30" x2="444.40" y2="423.30" stroke="#555" stroke-width="0.8" />
<text x="441.40" y="424.49" font-size="3.3" text-anchor="end" font-weight="bold" fill="#444" stroke="#444" stroke-width="0.15" >0</text>
<line x1="442.20" y1="409.52" x2="444.40" y2="409.52" stroke="#555" stroke-width="0.8" />
<text x="441.40" y="410.71" font-size="3.3" text-anchor="end" font-weight="bold" fill="#444" stroke="#444" stroke-width="0.15" >20</text>
<line x1="442.20" y1="395.74" x2="444.40" y2="395.74" stroke="#555" stroke-width="0.8" />
<text x="441.40" y="396.93" font-size="3.3" text-anchor="end" font-weight="bold" fill="#444" stroke="#444" stroke-width="0.15" >40</text>
<line x1="442.20" y1="381.96" x2="444.40" y2="381.96" stroke="#555" stroke-width="0.8" />
<text x="441.40" y="383.15" font-size="3.3" text-anchor="end" font-weight="bold" fill="#444" stroke="#444" stroke-width="0.15" >60</text>
<line x1="442.20" y1="368.18" x2="444.40" y2="368.18" stroke="#555" stroke-width="0.8" />
<text x="441.40" y="369.37" font-size="3.3" text-anchor="end" font-weight="bold" fill="#444" stroke="#444" stroke-width="0.15" >80</text>
<line x1="442.20" y1="354.40" x2="444.40" y2="354.40" stroke="#555" stroke-width="0.8" />
<text x="441.40" y="355.59" font-size="3.3" text-anchor="end" font-weight="bold" fill="#444" stroke="#444" stroke-width="0.15" >100</text>
<text x="444.38" y="429.70" font-size="3.6" text-anchor="middle" font-weight="bold" fill="#444" stroke="#444" stroke-width="0.15">10<tspan font-size="2.70" dy="-1.44">0</tspan></text>
<text x="461.18" y="429.70" font-size="3.6" text-anchor="middle" font-weight="bold" fill="#444" stroke="#444" stroke-width="0.15">10<tspan font-size="2.70" dy="-1.44">1</tspan></text>
<text x="477.98" y="429.70" font-size="3.6" text-anchor="middle" font-weight="bold" fill="#444" stroke="#444" stroke-width="0.15">10<tspan font-size="2.70" dy="-1.44">2</tspan></text>
<text x="494.78" y="429.70" font-size="3.6" text-anchor="middle" font-weight="bold" fill="#444" stroke="#444" stroke-width="0.15">10<tspan font-size="2.70" dy="-1.44">3</tspan></text>
<path d="M445.00,423.27 L446.65,422.75 L448.52,422.25 L450.77,421.73 L452.59,420.78 L454.62,419.70 L456.54,418.85 L457.77,417.71 L458.79,416.73 L460.38,415.96 L461.60,414.31 L462.09,412.48 L463.27,411.15 L464.58,409.35 L465.11,407.39 L466.15,405.38 L466.77,403.50 L467.92,400.83 L469.04,397.69 L469.39,394.44 L470.56,392.20 L470.96,390.00 L471.47,387.46 L471.76,386.42 L472.31,384.23 L472.48,382.08 L473.11,378.90 L473.85,377.50 L474.30,375.60 L474.94,372.66 L475.38,370.77 L475.68,370.04 L476.44,370.05 L476.73,368.85 L477.11,369.32 L477.66,370.82 L477.69,371.73 L477.85,371.21 L478.04,370.73 L478.65,368.85 L479.30,367.73 L479.54,366.25 L480.00,365.96 L480.51,366.36 L480.83,369.03 L481.15,369.81 L481.46,370.85 L482.12,370.82 L482.50,370.77 L482.92,371.88 L483.74,373.35 L483.85,373.65 L484.49,375.21 L485.03,376.01 L485.38,378.46 L486.40,381.31 L486.50,384.21 L487.31,386.15 L488.08,388.50 L488.56,390.36 L489.23,393.85 L489.58,395.14 L490.72,396.91 L491.15,399.62 L491.60,400.98 L492.72,403.31 L493.08,405.38 L493.68,406.84 L494.65,409.28 L495.00,411.15 L495.92,412.68 L496.22,413.57 L496.92,415.00 L498.18,415.89 L498.58,417.12 L499.81,417.88 L500.56,418.09 L501.72,418.44 L502.69,418.85 L503.47,419.19 L504.55,419.36 L505.58,419.81 L506.59,420.23 L507.65,420.79 L508.46,421.15 L509.51,421.67 L510.04,422.19 L511.35,422.69 L512.20,422.90 L512.86,423.08 L513.27,423.27 Z" fill="#a0a0a0" stroke="none"/>
<path d="M445.00,423.27 L446.65,422.75 L448.52,422.25 L450.77,421.73 L452.59,420.78 L454.62,419.70 L456.54,418.85 L457.77,417.71 L458.79,416.73 L460.38,415.96 L461.60,414.31 L462.09,412.48 L463.27,411.15 L464.58,409.35 L465.11,407.39 L466.15,405.38 L466.77,403.50 L467.92,400.83 L469.04,397.69 L469.39,394.44 L470.56,392.20 L470.96,390.00 L471.47,387.46 L471.76,386.42 L472.31,384.23 L472.48,382.08 L473.11,378.90 L473.85,377.50 L474.30,375.60 L474.94,372.66 L475.38,370.77 L475.68,370.04 L476.44,370.05 L476.73,368.85 L477.11,369.32 L477.66,370.82 L477.69,371.73 L477.85,371.21 L478.04,370.73 L478.65,368.85 L479.30,367.73 L479.54,366.25 L480.00,365.96 L480.51,366.36 L480.83,369.03 L481.15,369.81 L481.46,370.85 L482.12,370.82 L482.50,370.77 L482.92,371.88 L483.74,373.35 L483.85,373.65 L484.49,375.21 L485.03,376.01 L485.38,378.46 L486.40,381.31 L486.50,384.21 L487.31,386.15 L488.08,388.50 L488.56,390.36 L489.23,393.85 L489.58,395.14 L490.72,396.91 L491.15,399.62 L491.60,400.98 L492.72,403.31 L493.08,405.38 L493.68,406.84 L494.65,409.28 L495.00,411.15 L495.92,412.68 L496.22,413.57 L496.92,415.00 L498.18,415.89 L498.58,417.12 L499.81,417.88 L500.56,418.09 L501.72,418.44 L502.69,418.85 L503.47,419.19 L504.55,419.36 L505.58,419.81 L506.59,420.23 L507.65,420.79 L508.46,421.15 L509.51,421.67 L510.04,422.19 L511.35,422.69 L512.20,422.90 L512.86,423.08 L513.27,423.27" fill="none" stroke="#111" stroke-width="1.35" stroke-linejoin="round"/>
<path d="M445.00,422.69 L446.32,421.38 L447.08,420.05 L447.88,418.85 L448.65,417.41 L449.58,416.52 L450.77,415.00 L451.70,414.13 L452.69,413.04 L453.65,412.12 L454.55,410.24 L454.73,408.51 L455.58,407.31 L455.85,404.79 L456.78,403.34 L456.92,401.54 L457.14,399.42 L458.33,397.27 L458.46,395.77 L459.07,393.33 L459.61,392.33 L460.00,390.96 L460.60,390.01 L461.01,389.67 L461.35,389.04 L461.86,387.89 L461.91,384.50 L462.69,383.27 L463.20,382.52 L464.06,379.48 L464.23,378.46 L465.05,376.69 L465.35,375.35 L466.15,372.69 L467.09,370.49 L467.64,368.14 L468.08,366.92 L468.54,365.38 L469.06,365.77 L469.04,364.62 L469.49,366.69 L469.67,366.85 L470.38,368.85 L470.78,369.22 L471.46,368.66 L471.54,369.81 L472.14,371.10 L472.24,371.83 L472.88,373.65 L473.08,373.68 L473.47,375.13 L473.85,376.54 L474.42,377.90 L474.24,380.50 L474.81,381.35 L475.06,383.39 L476.20,386.15 L476.35,388.08 L477.00,390.07 L476.87,392.82 L477.69,395.77 L478.21,399.42 L478.92,401.70 L479.62,405.38 L480.19,407.34 L480.83,409.82 L481.54,412.12 L482.02,413.78 L482.50,415.10 L483.46,416.92 L484.12,418.07 L484.98,419.45 L485.38,420.77 L486.51,421.54 L486.97,422.33 L488.27,423.08" fill="none" stroke="#111" stroke-width="1.35" stroke-linejoin="round"/>
<text x="509.40" y="370.90" font-size="11" text-anchor="end" font-weight="normal" fill="#111" stroke="#111" stroke-width="0.38" >113.3</text>
<text x="1.60" y="463.90" font-size="16.5" text-anchor="start" font-weight="bold" fill="#000" >D</text>
<text x="101.50" y="463.00" font-size="11.35" text-anchor="middle" font-weight="normal" fill="#111" stroke="#111" stroke-width="0.38" >Day 3</text>
<text x="223.40" y="463.30" font-size="11.35" text-anchor="middle" font-weight="normal" fill="#111" stroke="#111" stroke-width="0.38" >Day 6</text>
<rect x="48.20" y="468.30" width="99.20" height="99.30" fill="none" stroke="#6a6a6a" stroke-width="1.0"/>
<line x1="46.00" y1="567.60" x2="48.20" y2="567.60" stroke="#555" stroke-width="0.8" />
<text x="43.80" y="569.29" font-size="4.7" text-anchor="end" font-weight="bold" fill="#111" stroke="#111" stroke-width="0.3" >0</text>
<line x1="46.00" y1="547.74" x2="48.20" y2="547.74" stroke="#555" stroke-width="0.8" />
<text x="43.80" y="549.43" font-size="4.7" text-anchor="end" font-weight="bold" fill="#111" stroke="#111" stroke-width="0.3" >20</text>
<line x1="46.00" y1="527.88" x2="48.20" y2="527.88" stroke="#555" stroke-width="0.8" />
<text x="43.80" y="529.57" font-size="4.7" text-anchor="end" font-weight="bold" fill="#111" stroke="#111" stroke-width="0.3" >40</text>
<line x1="46.00" y1="508.02" x2="48.20" y2="508.02" stroke="#555" stroke-width="0.8" />
<text x="43.80" y="509.71" font-size="4.7" text-anchor="end" font-weight="bold" fill="#111" stroke="#111" stroke-width="0.3" >60</text>
<line x1="46.00" y1="488.16" x2="48.20" y2="488.16" stroke="#555" stroke-width="0.8" />
<text x="43.80" y="489.85" font-size="4.7" text-anchor="end" font-weight="bold" fill="#111" stroke="#111" stroke-width="0.3" >80</text>
<line x1="46.00" y1="468.30" x2="48.20" y2="468.30" stroke="#555" stroke-width="0.8" />
<text x="43.80" y="469.99" font-size="4.7" text-anchor="end" font-weight="bold" fill="#111" stroke="#111" stroke-width="0.3" >100</text>
<text x="49.30" y="579.00" font-size="5.0" text-anchor="middle" font-weight="bold" fill="#111" stroke="#111" stroke-width="0.3">10<tspan font-size="3.75" dy="-2.00">0</tspan></text>
<text x="74.10" y="579.00" font-size="5.0" text-anchor="middle" font-weight="bold" fill="#111" stroke="#111" stroke-width="0.3">10<tspan font-size="3.75" dy="-2.00">1</tspan></text>
<text x="99.10" y="579.00" font-size="5.0" text-anchor="middle" font-weight="bold" fill="#111" stroke="#111" stroke-width="0.3">10<tspan font-size="3.75" dy="-2.00">2</tspan></text>
<text x="123.90" y="579.00" font-size="5.0" text-anchor="middle" font-weight="bold" fill="#111" stroke="#111" stroke-width="0.3">10<tspan font-size="3.75" dy="-2.00">3</tspan></text>
<rect x="173.50" y="468.00" width="98.70" height="99.80" fill="none" stroke="#6a6a6a" stroke-width="1.0"/>
<line x1="171.30" y1="567.80" x2="173.50" y2="567.80" stroke="#555" stroke-width="0.8" />
<text x="169.10" y="569.49" font-size="4.7" text-anchor="end" font-weight="bold" fill="#111" stroke="#111" stroke-width="0.3" >0</text>
<line x1="171.30" y1="547.84" x2="173.50" y2="547.84" stroke="#555" stroke-width="0.8" />
<text x="169.10" y="549.53" font-size="4.7" text-anchor="end" font-weight="bold" fill="#111" stroke="#111" stroke-width="0.3" >20</text>
<line x1="171.30" y1="527.88" x2="173.50" y2="527.88" stroke="#555" stroke-width="0.8" />
<text x="169.10" y="529.57" font-size="4.7" text-anchor="end" font-weight="bold" fill="#111" stroke="#111" stroke-width="0.3" >40</text>
<line x1="171.30" y1="507.92" x2="173.50" y2="507.92" stroke="#555" stroke-width="0.8" />
<text x="169.10" y="509.61" font-size="4.7" text-anchor="end" font-weight="bold" fill="#111" stroke="#111" stroke-width="0.3" >60</text>
<line x1="171.30" y1="487.96" x2="173.50" y2="487.96" stroke="#555" stroke-width="0.8" />
<text x="169.10" y="489.65" font-size="4.7" text-anchor="end" font-weight="bold" fill="#111" stroke="#111" stroke-width="0.3" >80</text>
<line x1="171.30" y1="468.00" x2="173.50" y2="468.00" stroke="#555" stroke-width="0.8" />
<text x="169.10" y="469.69" font-size="4.7" text-anchor="end" font-weight="bold" fill="#111" stroke="#111" stroke-width="0.3" >100</text>
<text x="174.70" y="579.00" font-size="5.0" text-anchor="middle" font-weight="bold" fill="#111" stroke="#111" stroke-width="0.3">10<tspan font-size="3.75" dy="-2.00">0</tspan></text>
<text x="199.50" y="579.00" font-size="5.0" text-anchor="middle" font-weight="bold" fill="#111" stroke="#111" stroke-width="0.3">10<tspan font-size="3.75" dy="-2.00">1</tspan></text>
<text x="224.50" y="579.00" font-size="5.0" text-anchor="middle" font-weight="bold" fill="#111" stroke="#111" stroke-width="0.3">10<tspan font-size="3.75" dy="-2.00">2</tspan></text>
<text x="249.30" y="579.00" font-size="5.0" text-anchor="middle" font-weight="bold" fill="#111" stroke="#111" stroke-width="0.3">10<tspan font-size="3.75" dy="-2.00">3</tspan></text>
<line x1="65.50" y1="582.80" x2="256.00" y2="582.80" stroke="#111" stroke-width="1.6" />
<path d="M254,580.2 L260.5,582.8 L254,585.4 Z" fill="#111"/>
<text x="160.40" y="595.30" font-size="11.35" text-anchor="middle" font-weight="normal" fill="#111" stroke="#111" stroke-width="0.38" >CFSE</text>
<path d="M48.40,567.60 L112.50,568.00 L121.25,566.25 L125.50,562.50 L128.00,555.00 L129.50,542.50 L131.00,525.00 L132.25,505.00 L133.50,487.50 L134.75,473.75 L136.00,480.00 L137.50,492.50 L139.25,510.00 L141.25,532.50 L143.00,552.50 L145.00,565.00 L147.50,568.00 L147.00,567.60" fill="none" stroke="#9a9a9a" stroke-width="1.3" stroke-linejoin="round"/>
<path d="M48.40,567.60 L111.25,568.00 L118.75,565.50 L123.00,562.00 L125.75,556.25 L127.75,545.00 L129.50,527.50 L131.25,507.50 L132.75,488.75 L134.00,477.00 L135.25,477.50 L136.75,485.00 L138.25,495.00 L140.00,510.00 L141.75,530.00 L143.75,550.00 L145.50,562.50 L147.50,568.00 L147.00,567.60" fill="none" stroke="#5ec8de" stroke-width="1.3" stroke-linejoin="round"/>
<path d="M48.40,567.60 L120.00,568.00 L125.00,566.25 L127.50,562.50 L128.75,555.00 L130.00,542.50 L131.25,525.00 L132.50,505.00 L133.75,487.50 L135.00,470.50 L136.25,482.50 L137.50,495.00 L139.25,510.00 L141.25,532.50 L143.00,552.50 L145.00,565.00 L147.00,568.00 L147.00,567.60" fill="none" stroke="#111111" stroke-width="1.3" stroke-linejoin="round"/>
<path d="M48.40,567.60 L107.50,568.00 L115.00,565.00 L118.75,561.25 L122.50,556.25 L125.00,545.00 L127.00,530.00 L128.75,510.00 L130.50,492.50 L132.00,481.25 L133.75,478.75 L135.50,480.00 L137.00,485.00 L138.25,495.00 L140.00,510.00 L141.75,530.00 L143.75,550.00 L145.50,562.50 L147.00,568.00 L147.00,567.60" fill="none" stroke="#2c3f9e" stroke-width="1.3" stroke-linejoin="round"/>
<path d="M48.40,567.60 L110.00,568.00 L118.75,565.00 L122.50,561.25 L125.00,557.50 L127.00,547.50 L128.75,530.00 L130.50,510.00 L132.00,492.50 L133.25,480.00 L134.50,476.25 L135.75,477.50 L137.00,485.00 L138.25,495.00 L140.00,510.00 L141.75,530.00 L143.75,550.00 L145.50,562.50 L147.50,568.00 L147.00,567.60" fill="none" stroke="#e2222e" stroke-width="1.3" stroke-linejoin="round"/>
<path d="M173.80,567.80 L227.50,568.00 L236.25,567.00 L243.00,566.00 L247.00,564.00 L249.00,560.50 L250.25,554.50 L251.50,544.50 L252.75,529.50 L253.75,514.50 L254.75,497.50 L255.75,483.00 L256.75,477.00 L257.75,485.00 L258.75,500.00 L260.00,517.50 L261.25,535.00 L262.50,550.00 L263.75,560.00 L265.50,566.25 L267.50,568.00 L271.80,567.80" fill="none" stroke="#9a9a9a" stroke-width="1.3" stroke-linejoin="round"/>
<path d="M173.80,567.80 L212.50,568.00 L222.50,566.00 L230.00,563.50 L236.25,560.25 L240.50,557.00 L244.00,553.00 L247.00,548.00 L249.00,541.25 L250.50,532.00 L251.75,518.00 L252.75,503.00 L253.75,490.50 L255.00,478.75 L256.25,474.00 L257.50,480.00 L258.50,492.50 L259.75,510.00 L261.00,530.00 L262.50,547.50 L263.75,558.75 L265.50,566.00 L267.50,568.00 L271.80,567.80" fill="none" stroke="#5ec8de" stroke-width="1.3" stroke-linejoin="round"/>
<path d="M173.80,567.80 L230.00,568.00 L237.50,567.50 L243.75,566.50 L247.50,564.75 L249.50,561.50 L250.75,555.25 L252.00,545.25 L253.25,530.25 L254.25,515.25 L255.25,497.75 L256.25,482.75 L257.00,477.50 L258.00,485.00 L259.00,500.00 L260.00,517.50 L261.25,535.00 L262.50,550.00 L263.75,560.00 L265.50,566.25 L267.50,568.00 L271.80,567.80" fill="none" stroke="#111111" stroke-width="1.3" stroke-linejoin="round"/>
<path d="M173.80,567.80 L200.00,568.00 L215.00,566.50 L225.00,564.00 L230.00,561.50 L235.00,557.75 L238.75,552.75 L241.25,546.50 L243.75,537.75 L246.25,527.75 L248.25,515.25 L249.50,502.75 L250.50,490.25 L251.25,482.75 L252.50,479.00 L253.75,477.25 L255.00,474.00 L256.00,475.00 L257.00,480.00 L258.00,490.00 L259.00,502.50 L260.00,517.50 L261.25,535.00 L262.50,550.00 L263.75,560.00 L265.50,566.25 L267.50,568.00 L271.80,567.80" fill="none" stroke="#2c3f9e" stroke-width="1.3" stroke-linejoin="round"/>
<path d="M173.80,567.80 L222.50,568.00 L232.50,566.50 L238.75,564.00 L243.75,560.25 L247.00,555.25 L249.00,545.25 L250.50,532.75 L251.75,517.75 L252.75,502.75 L253.75,490.25 L254.75,480.25 L255.50,474.00 L256.25,472.50 L257.00,475.00 L258.00,485.00 L259.00,500.00 L260.00,517.50 L261.25,535.00 L262.50,550.00 L263.75,560.00 L265.50,566.25 L267.50,568.00 L271.80,567.80" fill="none" stroke="#e2222e" stroke-width="1.3" stroke-linejoin="round"/>
<rect x="280.3" y="469.20" width="12.7" height="14.4" fill="#000000"/>
<text x="300.40" y="478.80" font-size="11.35" text-anchor="start" font-weight="normal" fill="#111" stroke="#111" stroke-width="0.38" >Effector CD4T</text>
<rect x="280.3" y="484.60" width="12.7" height="14.4" fill="#999999"/>
<text x="300.40" y="496.10" font-size="11.35" text-anchor="start" font-weight="normal" fill="#111" stroke="#111" stroke-width="0.38" >Effector CD4T/OVA</text>
<rect x="280.3" y="501.00" width="12.7" height="14.4" fill="#62c6dc"/>
<text x="300.40" y="513.00" font-size="11.35" text-anchor="start" font-weight="normal" fill="#111" stroke="#111" stroke-width="0.38" >diffDC/Effector CD4T</text>
<rect x="280.3" y="518.00" width="12.7" height="14.4" fill="#3148a6"/>
<text x="300.40" y="530.10" font-size="11.35" text-anchor="start" font-weight="normal" fill="#111" stroke="#111" stroke-width="0.38" >diffDC/Effector CD4T/OVA</text>
<rect x="280.3" y="535.20" width="12.7" height="14.4" fill="#e81c24"/>
<text x="300.40" y="546.90" font-size="11.35" text-anchor="start" font-weight="normal" fill="#111" stroke="#111" stroke-width="0.38" >Anti-OX-40L/diffDC/Effector CD4T/OVA</text>
</svg>
</body></html>
